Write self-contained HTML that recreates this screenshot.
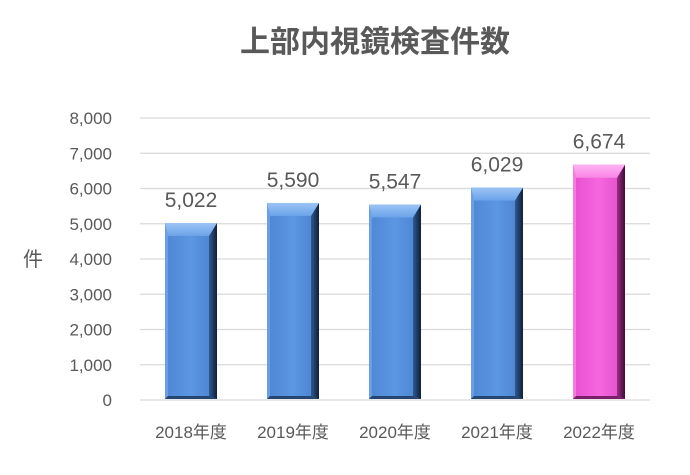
<!DOCTYPE html>
<html><head><meta charset="utf-8"><style>
body{margin:0;background:#fff;width:690px;height:470px;overflow:hidden}
text{font-family:"Liberation Sans","Noto Sans CJK JP",sans-serif}
</style></head><body>
<svg id="chart" width="690" height="470" xmlns="http://www.w3.org/2000/svg">
<defs>
<linearGradient id="bodyB" x1="0" x2="1"><stop offset="0" stop-color="#4f86d3"/><stop offset="0.5" stop-color="#5b97e3"/><stop offset="1" stop-color="#4a80cc"/></linearGradient>
<linearGradient id="rightB" x1="0" x2="1"><stop offset="0" stop-color="#2f5a93"/><stop offset="1" stop-color="#0f1f38"/></linearGradient>
<linearGradient id="topB" x1="0" y1="0" x2="0" y2="1"><stop offset="0" stop-color="#9cc4f5"/><stop offset="1" stop-color="#6aa3ea"/></linearGradient>
<linearGradient id="bodyP" x1="0" x2="1"><stop offset="0" stop-color="#e84fd0"/><stop offset="0.5" stop-color="#f567df"/><stop offset="1" stop-color="#e04bc8"/></linearGradient>
<linearGradient id="rightP" x1="0" x2="1"><stop offset="0" stop-color="#9a2d88"/><stop offset="1" stop-color="#3d0c35"/></linearGradient>
<linearGradient id="topP" x1="0" y1="0" x2="0" y2="1"><stop offset="0" stop-color="#ffb3f2"/><stop offset="1" stop-color="#f985e6"/></linearGradient>
</defs>
<text x="375" y="52" font-size="30" font-weight="bold" fill="#595959" text-anchor="middle">上部内視鏡検査件数</text>
<text x="33" y="266" font-size="20" fill="#595959" text-anchor="middle">件</text>
<g id="grid"></g><g id="bars"></g>
</svg>
<script>
const categories=["2018年度","2019年度","2020年度","2021年度","2022年度"];
const values=[5022,5590,5547,6029,6674];
const yTicks=[0,1000,2000,3000,4000,5000,6000,7000,8000];
const svg=document.getElementById('chart');
const NS="http://www.w3.org/2000/svg";
const y0=400,y1=118,yMax=8000,x0=140,x1=650;
const y=v=>y0-(v/yMax)*(y0-y1);
const band=(x1-x0)/categories.length;
const xc=i=>x0+band*(i+0.5);
function mk(t,a,p){const e=document.createElementNS(NS,t);for(const k in a)e.setAttribute(k,a[k]);(p||svg).appendChild(e);return e;}
const grid=document.getElementById('grid'),bars=document.getElementById('bars');
yTicks.forEach(v=>{
 const l=mk('line',{x1:x0,x2:x1,y1:y(v),y2:y(v),stroke:'#d9d9d9','stroke-width':1.3},grid);
 
 
 const t=mk('text',{x:112,y:y(v)+6,'font-size':17,fill:'#595959','text-anchor':'end'},grid);
 t.textContent=v.toLocaleString('en-US');
 
 
});
categories.forEach((c,i)=>{
 const w=52,L=xc(i)-w/2,R=L+w,T=y(values[i]),B=y0-1;
 const pink=i===4;const s=pink?'P':'B';
 const g=mk('g',{},bars);
 
 
 const h=Math.min(13,(B-T)/2);
 mk('rect',{x:L,y:T,width:w,height:B-T,fill:'url(#body'+s+')'},g);
 mk('polygon',{points:`${R-8},${T+h} ${R},${T} ${R},${B} ${R-8},${B-3}`,fill:'url(#right'+s+')'},g);
 mk('polygon',{points:`${L},${T} ${L+3},${T+h} ${L+3},${B-3} ${L},${B}`,fill:pink?'#f27ce0':'#6a9fe6'},g);
 mk('polygon',{points:`${L},${B} ${L+3},${B-3} ${R-8},${B-3} ${R},${B}`,fill:pink?'#7a2069':'#244670'},g);
 mk('polygon',{points:`${L},${T} ${R},${T} ${R-8},${T+h} ${L+3},${T+h}`,fill:'url(#top'+s+')'},g);
 const vl=mk('text',{x:xc(i),y:T-16,'font-size':21,fill:'#595959','text-anchor':'middle'},g);
 vl.textContent=values[i].toLocaleString('en-US');
 
 
 const cl=mk('text',{x:xc(i),y:438,'font-size':17,fill:'#595959','text-anchor':'middle'},bars);
 cl.textContent=c;
 
 
});
</script>
</body></html>
